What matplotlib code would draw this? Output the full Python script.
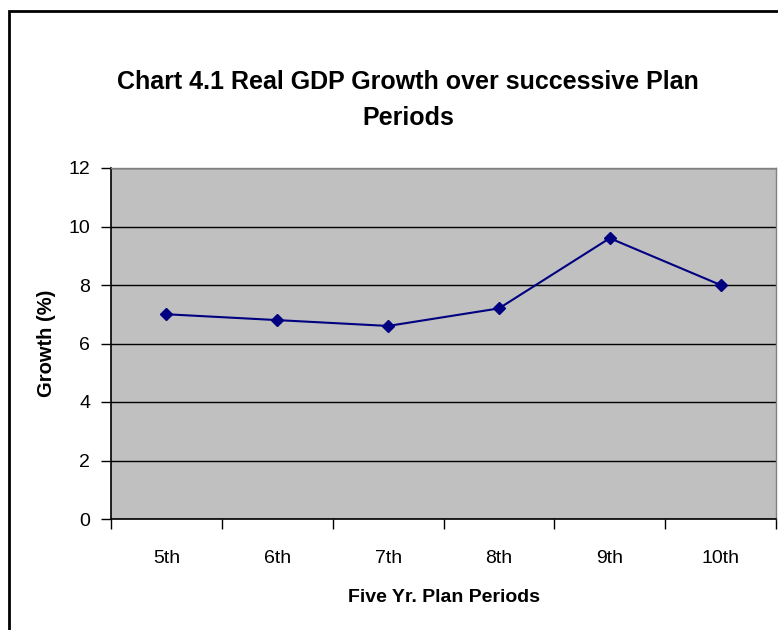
import matplotlib.pyplot as plt
from matplotlib.patches import Rectangle

plt.rcParams["font.family"] = ["Liberation Sans", "DejaVu Sans"]

# ── Data ────────────────────────────────────────────────
periods = ["5th", "6th", "7th", "8th", "9th", "10th"]
growth = [7.0, 6.8, 6.6, 7.2, 9.6, 8.0]
y_ticks = [0, 2, 4, 6, 8, 10, 12]

fig = plt.figure(figsize=(7.78, 6.3), dpi=100)

# outer chart border (right and bottom run off the picture)
fig.patches.append(Rectangle((9 / 778, -0.05), 1.2, 1 - 11 / 630 + 0.05,
                             transform=fig.transFigure, fill=False,
                             edgecolor="black", linewidth=2))

ax = fig.add_axes([111 / 778, 1 - 519 / 630, 665 / 778, 351 / 630])
ax.set_facecolor("#c0c0c0")

x = list(range(len(periods)))
ax.plot(x, growth, color="#000080", linewidth=1.5,
        marker="D", markersize=6.5, zorder=3)

ax.set_xlim(-0.5, len(periods) - 0.5)
ax.set_ylim(0, 12)
ax.set_yticks(y_ticks)
ax.yaxis.grid(True, color="black", linewidth=1)
ax.set_axisbelow(True)

# category ticks sit between the categories, labels at the centres
ax.set_xticks([i - 0.5 for i in range(len(periods) + 1)])
ax.set_xticklabels([])
ax.set_xticks(x, minor=True)
ax.set_xticklabels(periods, minor=True)
ax.tick_params(axis="x", which="minor", length=0, pad=22, labelsize=14)
ax.tick_params(axis="x", which="major", length=7, width=1, direction="out")
ax.tick_params(axis="y", length=7, width=1, direction="out", labelsize=14, pad=8)

for side in ["top", "right"]:
    ax.spines[side].set_color("#808080")
    ax.spines[side].set_linewidth(1)
for side in ["left", "bottom"]:
    ax.spines[side].set_color("black")
    ax.spines[side].set_linewidth(1.2)

ax.set_xlabel("Five Yr. Plan Periods", fontsize=14, fontweight="bold", labelpad=16)
ax.set_ylabel("Growth (%)", fontsize=14.5, fontweight="bold", labelpad=9)

fig.text(408 / 778, 1 - 100 / 630,
         "Chart 4.1 Real GDP Growth over successive Plan\nPeriods",
         ha="center", va="center", fontsize=18, fontweight="bold",
         linespacing=1.6)

plt.savefig("out.png", dpi=100)
